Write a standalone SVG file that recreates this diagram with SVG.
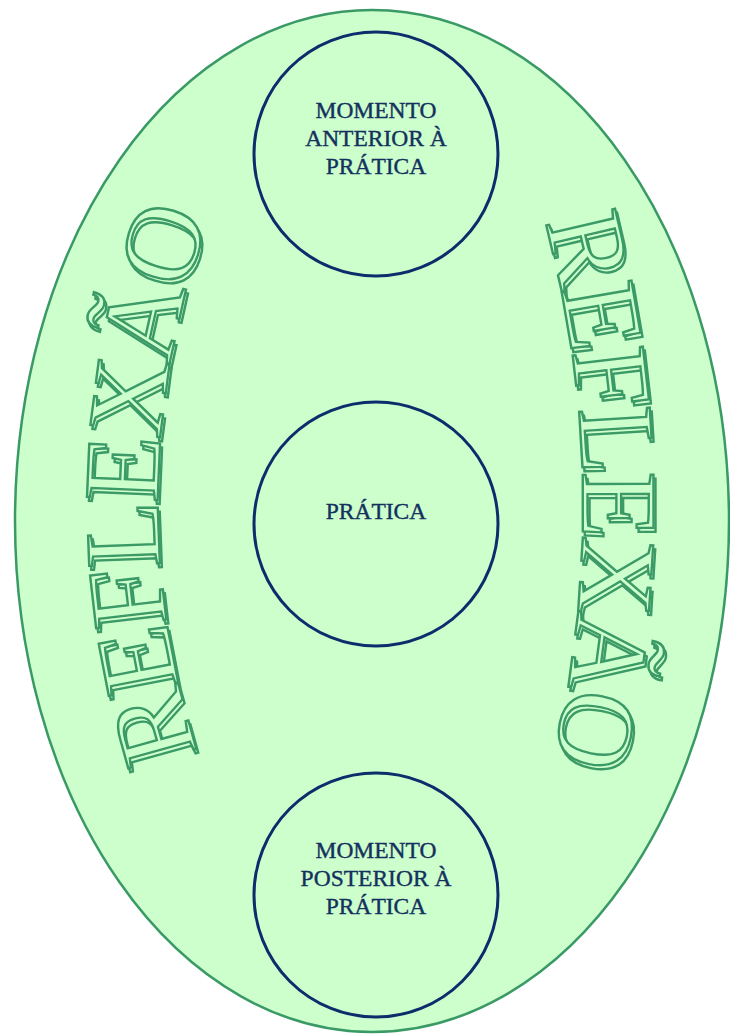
<svg xmlns="http://www.w3.org/2000/svg" width="730" height="1036" viewBox="0 0 730 1036">
  <style>
    .bg { fill: #ccffcc; stroke: #3a9a66; stroke-width: 2.5; }
    .node circle { fill: none; stroke: #0b2d6b; stroke-width: 3; }
    .label { font-family: "Liberation Serif", "Times New Roman", serif; font-size: 23.5px; fill: #14305e; stroke: #14305e; stroke-width: 0.4; text-anchor: middle; }
    .arc { font-family: "Liberation Serif", "Times New Roman", serif; font-size: 108px; fill: #ccffcc; stroke: #3a9a66; stroke-width: 2.4; filter: url(#double); }
  </style>
  <defs>
    <filter id="double" x="-20%" y="-20%" width="140%" height="140%">
      <feOffset in="SourceGraphic" dx="2" dy="4" result="off"/>
      <feMerge>
        <feMergeNode in="off"/>
        <feMergeNode in="SourceGraphic"/>
      </feMerge>
    </filter>
    <path id="leftArc" d="M 198,752 Q 110,480 216,200"/>
    <path id="rightArc" d="M 545,222 Q 618,495 550,772"/>
  </defs>

  <g id="reflexao-ellipse">
    <ellipse class="bg" cx="372" cy="521" rx="357" ry="511"/>
  </g>

  <g id="reflexao-left">
    <text class="arc"><textPath href="#leftArc" textLength="545" lengthAdjust="spacing">REFLEXÃO</textPath></text>
  </g>

  <g id="reflexao-right">
    <text class="arc"><textPath href="#rightArc" textLength="545" lengthAdjust="spacing">REFLEXÃO</textPath></text>
  </g>

  <g id="connectors"></g>

  <g id="momento-anterior" class="node">
    <circle cx="376" cy="154" r="122"/>
    <text class="label" x="376" y="118">MOMENTO</text>
    <text class="label" x="376" y="146">ANTERIOR À</text>
    <text class="label" x="376" y="174">PRÁTICA</text>
  </g>

  <g id="pratica" class="node">
    <circle cx="376" cy="524" r="122"/>
    <text class="label" x="376" y="519">PRÁTICA</text>
  </g>

  <g id="momento-posterior" class="node">
    <circle cx="376" cy="895" r="122"/>
    <text class="label" x="376" y="858">MOMENTO</text>
    <text class="label" x="376" y="886">POSTERIOR À</text>
    <text class="label" x="376" y="914">PRÁTICA</text>
  </g>
</svg>
